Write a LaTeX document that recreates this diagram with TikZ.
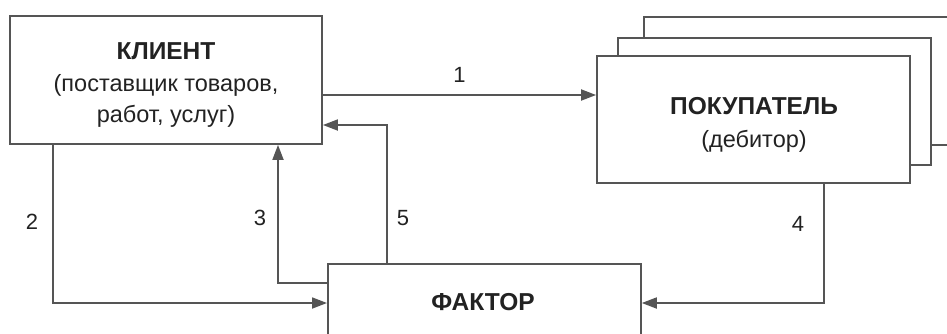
\documentclass[tikz,border=0pt]{standalone}
\usepackage{fontspec}
\setmainfont{Liberation Sans}
\usetikzlibrary{arrows.meta}
\definecolor{ln}{HTML}{555555}
\definecolor{tx}{HTML}{222222}
\newcommand{\bt}[1]{{\fontsize{24.5}{30}\selectfont\bfseries #1}}
\begin{document}
\begin{tikzpicture}[x=1pt,y=-1pt,
  box/.style={draw=ln,line width=1.8pt,fill=white,rectangle,inner sep=0pt},
  btext/.style={text=tx,align=center,inner sep=0pt,font=\fontsize{23.5}{31}\selectfont},
  conn/.style={draw=ln,line width=1.8pt,-{Triangle[length=15pt,width=11pt]}},
  lbl/.style={text=tx,font=\fontsize{22}{24}\selectfont,inner sep=0pt}]
\useasboundingbox (0,0) rectangle (947,333);
% back boxes of buyer stack
\draw[draw=ln,line width=1.8pt,fill=white] (644,17) rectangle (990,145);
\draw[draw=ln,line width=1.8pt,fill=white] (618,38) rectangle (931,165);
\node[box,minimum width=313pt,minimum height=127pt] (buyer) at (753.5,119.5) {};
\node[btext] (btxt) at (754,125) {\bt{ПОКУПАТЕЛЬ}\\[2pt](дебитор)};
\node[box,minimum width=312pt,minimum height=128pt] (client) at (166,80) {};
\node[btext] (ctxt) at (166,85) {\bt{КЛИЕНТ}\\[1pt](поставщик товаров,\\работ, услуг)};
\node[box,minimum width=313pt,minimum height=110pt,anchor=north west] (factor) at (327,263) {};
\node[btext] (ftext) at (483,302) {\bt{ФАКТОР}};
% connectors
\draw[conn] (client.east |- 0,95) -- node[lbl,above=12pt] {1} (buyer.west |- 0,95);
\draw[conn] (client.south -| 53,0) -- (53,303) -- (factor.west |- 0,303);
\node[lbl] (l2) at (32,222) {2};
\draw[conn] (factor.west |- 0,283) -- (278,283) -- (client.south -| 278,0);
\node[lbl] (l3) at (260,218) {3};
\draw[conn] (factor.north -| 387,0) -- (387,125) -- (client.east |- 0,125);
\node[lbl] (l5) at (403,218) {5};
\draw[conn] (buyer.south -| 824,0) -- (824,303) -- (factor.east |- 0,303);
\node[lbl] (l4) at (798,224) {4};
\end{tikzpicture}
\end{document}
